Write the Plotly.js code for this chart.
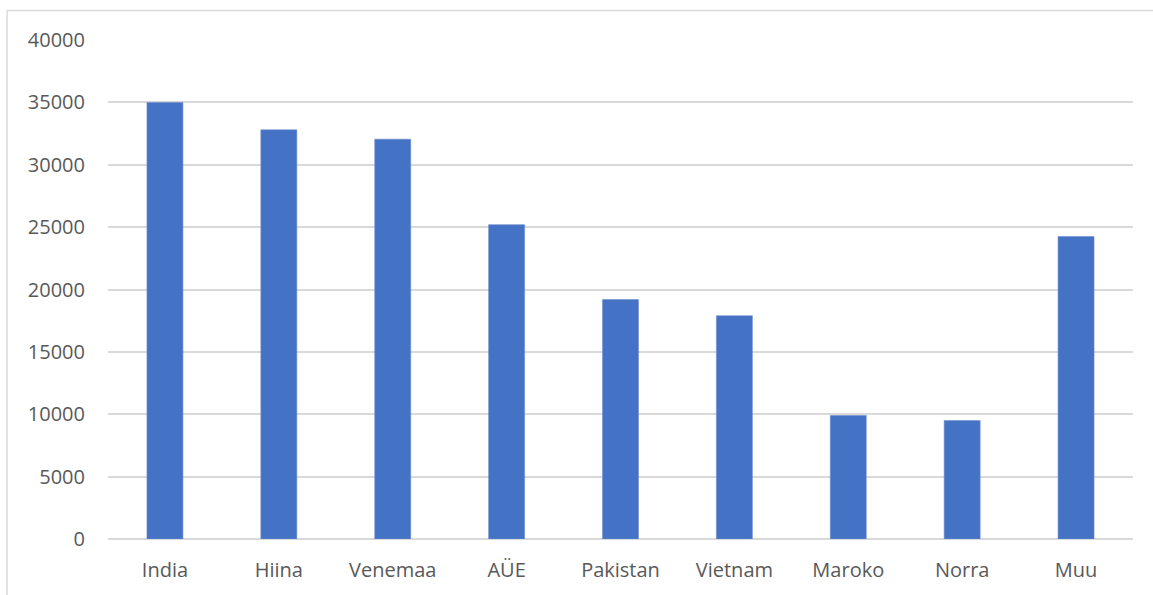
<!DOCTYPE html>
<html>
<head>
<meta charset="utf-8">
<script src="https://cdn.plot.ly/plotly-3.0.1.min.js"></script>
<style>html,body{margin:0;padding:0;background:#fff;}#chart{width:1153px;height:595px;}</style>
</head>
<body>
<div id="chart"></div>
<script>
const categories = ["India", "Hiina", "Venemaa", "AÜE", "Pakistan", "Vietnam", "Maroko", "Norra", "Muu"];
const values = [35000, 32800, 32050, 25200, 19200, 17900, 9900, 9500, 24250];
const yTicks = [0, 5000, 10000, 15000, 20000, 25000, 30000, 35000, 40000];

const trace = {
  type: "bar",
  x: categories,
  y: values,
  marker: {color: "#4472C4", line: {color: "#6f8fd0", width: 0.6}},
  hoverinfo: "x+y"
};

const font = {family: "Open Sans, Lato, sans-serif", size: 20, color: "#595959"};

const layout = {
  width: 1153,
  height: 595,
  margin: {l: 108, r: 20, t: 40, b: 56, pad: 0},
  paper_bgcolor: "#ffffff",
  plot_bgcolor: "#ffffff",
  showlegend: false,
  bargap: 0.684,
  font: font,
  xaxis: {
    type: "category",
    showgrid: false,
    zeroline: false,
    showline: false,
    ticks: "outside",
    ticklen: 13,
    tickcolor: "rgba(0,0,0,0)",
    tickfont: font,
    fixedrange: true
  },
  yaxis: {
    range: [0, 40000],
    tickvals: yTicks,
    ticktext: yTicks.map(String),
    showgrid: true,
    gridcolor: "#d9d9d9",
    gridwidth: 1.5,
    zeroline: true,
    zerolinecolor: "#d9d9d9",
    zerolinewidth: 1.5,
    showline: false,
    ticks: "outside",
    ticklen: 18,
    tickcolor: "rgba(0,0,0,0)",
    tickfont: font,
    fixedrange: true
  },
  shapes: [
    {type: "line", xref: "paper", yref: "paper", x0: -0.0985, x1: 1.03, y0: 1.0591, y1: 1.0591,
     line: {color: "#d9d9d9", width: 1.5}},
    {type: "line", xref: "paper", yref: "paper", x0: -0.0985, x1: -0.0985, y0: 1.0591, y1: -0.15,
     line: {color: "#d9d9d9", width: 1.5}}
  ]
};

Plotly.newPlot("chart", [trace], layout, {displayModeBar: false, staticPlot: false});
</script>
</body>
</html>
